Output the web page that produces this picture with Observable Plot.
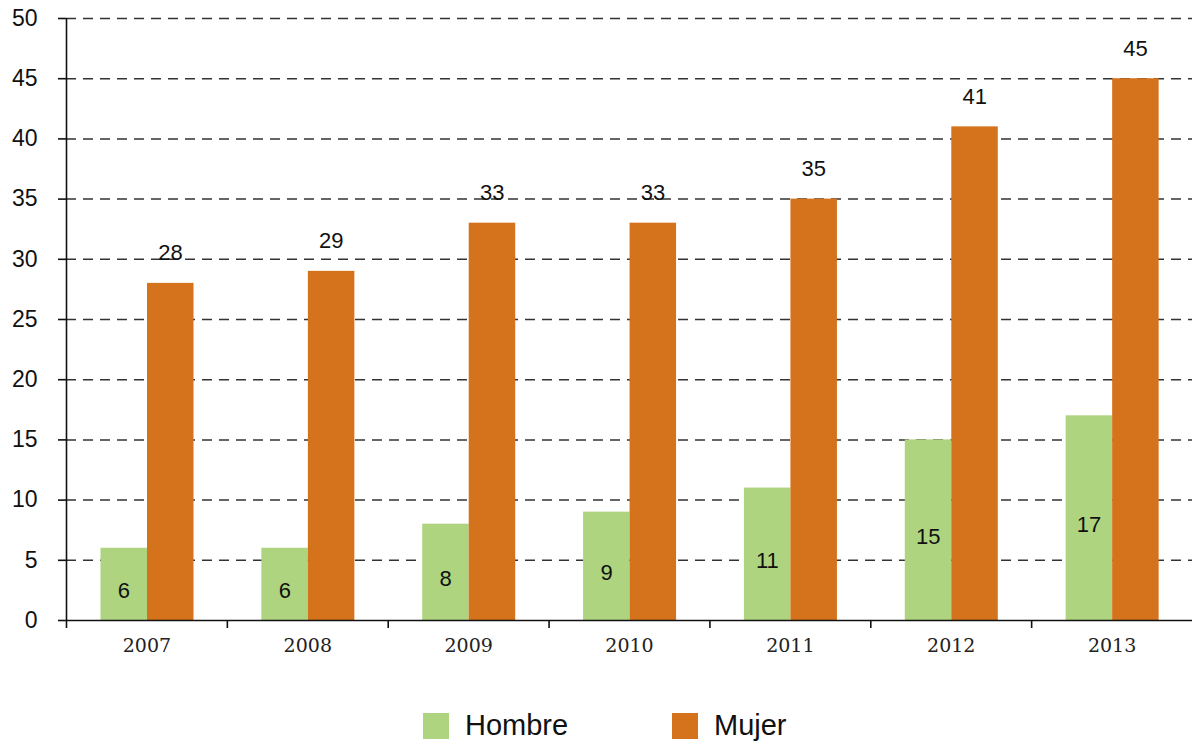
<!DOCTYPE html>
<html>
<head>
<meta charset="utf-8">
<script src="https://cdn.jsdelivr.net/npm/d3@7"></script>
<script src="https://cdn.jsdelivr.net/npm/@observablehq/plot@0.6"></script>
<style>
  html, body { margin: 0; padding: 0; background: #fff; }
  #chart svg { display: block; }
  #legend { position: relative; height: 41px; font-family: "Liberation Sans", Arial, sans-serif; font-size: 29px; color: #111; }
  .item { position: absolute; top: 0; display: flex; align-items: center; height: 41px; }
  .sw { width: 26px; height: 26px; margin-right: 16px; }
</style>
</head>
<body>
<div id="chart"></div>
<div id="legend"></div>
<script>
const years = ["2007", "2008", "2009", "2010", "2011", "2012", "2013"];
const hombre = [6, 6, 8, 9, 11, 15, 17];
const mujer = [28, 29, 33, 33, 35, 41, 45];
const seriesNames = ["Hombre", "Mujer"];
const colors = ["#aed47f", "#d5731c"];
const yTicks = [0, 5, 10, 15, 20, 25, 30, 35, 40, 45, 50];

const W = 1192, H = 705, ML = 66, MR = 0, MT = 18, MB = 85;
const bw = (W - ML - MR) / years.length;

const dataH = years.map((year, i) => ({year, value: hombre[i]}));
const dataM = years.map((year, i) => ({year, value: mujer[i]}));

const chart = Plot.plot({
  width: W,
  height: H,
  marginLeft: ML,
  marginRight: MR,
  marginTop: MT,
  marginBottom: MB,
  x: {type: "band", domain: years, padding: 0, round: false, axis: null, label: null},
  y: {domain: [0, 50], axis: null, label: null},
  style: {background: "#fff"},
  marks: [
    Plot.ruleY(yTicks.filter(d => d > 0), {stroke: "#333", strokeWidth: 1.5, strokeDasharray: "10,7"}),
    Plot.barY(dataH, {x: "year", y: "value", fill: colors[0], insetLeft: 34.5, insetRight: bw - 81}),
    Plot.barY(dataM, {x: "year", y: "value", fill: colors[1], insetLeft: 81, insetRight: bw - 81 - 46.5}),
    Plot.ruleY([0], {stroke: "#111", strokeWidth: 1.6}),
    Plot.ruleX([years[0]], {dx: -bw / 2, stroke: "#111", strokeWidth: 1.6}),
    Plot.axisY({ticks: yTicks, label: null, tickSize: 8, tickPadding: 21, stroke: "#111", strokeWidth: 1.6, fontSize: 23, fill: "#111", fontFamily: "Liberation Sans, Arial, sans-serif", tickFormat: d => String(d)}),
    Plot.axisX({label: null, tickSize: 8, stroke: "#111", strokeWidth: 1.6, text: null, dx: -bw / 2}),
    Plot.axisX({label: null, tickSize: 0, tickPadding: 18, fontSize: 19, fill: "#222", fontFamily: "DejaVu Serif, serif"}),
    Plot.text(dataH, {x: "year", y: d => d.value / 2, text: d => String(d.value), dx: -23, dy: 7, fontSize: 22, fill: "#111", fontFamily: "Liberation Sans, Arial, sans-serif"}),
    Plot.text(dataM, {x: "year", y: "value", text: d => String(d.value), dx: 23.5, dy: -30, fontSize: 22, fill: "#111", fontFamily: "Liberation Sans, Arial, sans-serif"})
  ]
});
document.getElementById("chart").appendChild(chart);

const legend = document.getElementById("legend");
const legendLeft = [423, 672];
seriesNames.forEach((name, i) => {
  const item = document.createElement("div");
  item.className = "item";
  item.style.left = legendLeft[i] + "px";
  const sw = document.createElement("span");
  sw.className = "sw";
  sw.style.background = colors[i];
  const label = document.createElement("span");
  label.textContent = name;
  item.appendChild(sw);
  item.appendChild(label);
  legend.appendChild(item);
});
</script>
</body>
</html>
